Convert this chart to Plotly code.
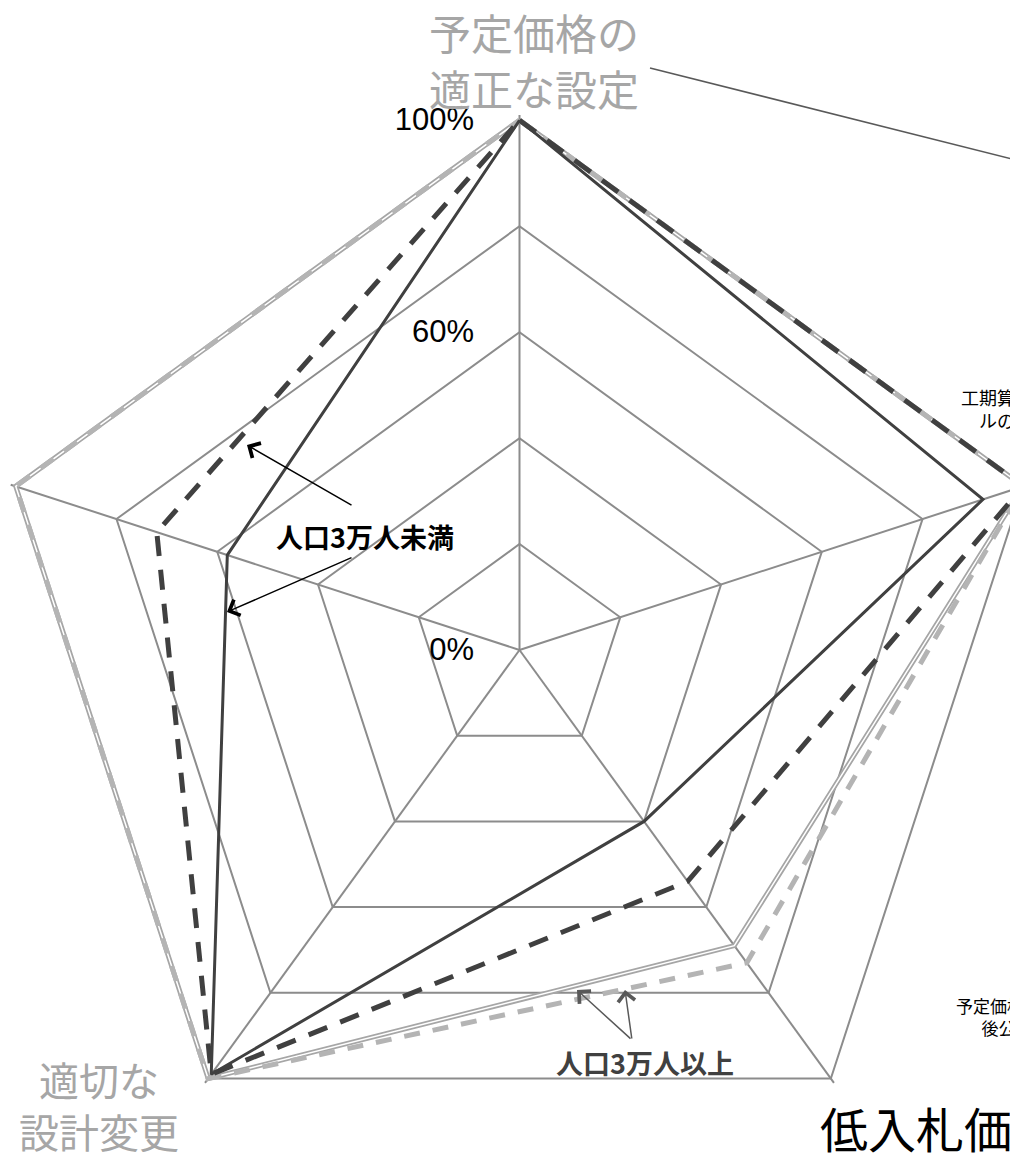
import plotly.graph_objects as go

# ---------------- data ----------------
categories = ["予定価格の適正な設定", "歩切りの根絶", "低入札価格調査基準の設定", "適切な設計変更", "施工時期の平準化"]
# percentages on each axis (clockwise from top)
over30k_double = [100, 100, 69, 100, 100]   # 人口3万人以上 (double line)
over30k_dashed = [100, 100, 73, 100, 100]   # 人口3万人以上 (dashed)
under30k_dashed = [100, 100, 54, 99, 72]    # 人口3万人未満 (dashed)
under30k_solid = [100, 92, 40, 99, 58]      # 人口3万人未満 (solid)
ring_vals = [0, 20, 40, 60, 80, 100]
ring_text = ["0%", "", "", "60%", "", "100%"]

# ---------------- layout geometry ----------------
# The reference is a crop of a wider chart: the figure is drawn larger than the
# window and shifted left by OFF pixels so the window shows the same crop.
W, H, OFF = 1080, 1190, 16
CX, CY, RPX = 519.5, 650, 535   # page centre, pixel radius of the radial range end

def px(x):
    return (x + OFF) / W

def py(y):
    return 1 - y / H

DARK = "#404040"
LIGHT = "#a6a6a6"
LIGHT_DASH = "#b4b4b4"
GRID = "#8c8c8c"
CJK = "Noto Sans CJK JP"
LATIN = "Liberation Sans, Arial, sans-serif"

theta = categories + [categories[0]]

def closed(v):
    return list(v) + [v[0]]

fig = go.Figure()
fig.add_trace(go.Scatterpolar(r=closed(over30k_double), theta=theta, mode="lines",
                              line=dict(color=LIGHT, width=5), name="人口3万人以上"))
fig.add_trace(go.Scatterpolar(r=closed(over30k_double), theta=theta, mode="lines",
                              line=dict(color="white", width=1.5), showlegend=False))
fig.add_trace(go.Scatterpolar(r=closed(over30k_dashed), theta=theta, mode="lines",
                              line=dict(color=LIGHT_DASH, width=5, dash="16px,13px"), name="人口3万人以上 (破線)"))
fig.add_trace(go.Scatterpolar(r=closed(under30k_dashed), theta=theta, mode="lines",
                              line=dict(color=DARK, width=5, dash="20px,14px"), name="人口3万人未満 (破線)"))
fig.add_trace(go.Scatterpolar(r=closed(under30k_solid), theta=theta, mode="lines",
                              line=dict(color=DARK, width=3), name="人口3万人未満"))

fig.update_layout(
    width=W, height=H,
    margin=dict(l=0, r=0, t=0, b=0),
    paper_bgcolor="white",
    showlegend=False,
    polar=dict(
        domain=dict(x=[max(0.0, px(CX - RPX)), px(CX + RPX)], y=[py(CY + RPX), py(CY - RPX)]),
        gridshape="linear",
        bgcolor="white",
        angularaxis=dict(type="category", categoryarray=categories, rotation=90, direction="clockwise",
                         showticklabels=False, ticks="", showgrid=True, gridcolor=GRID, gridwidth=1.5,
                         showline=False, layer="below traces"),
        radialaxis=dict(range=[0, 101], tickvals=ring_vals, ticktext=ring_text, angle=90, tickangle=90,
                        side="counterclockwise", showline=False, showgrid=True, gridcolor=GRID, gridwidth=1.5,
                        ticks="outside", ticklen=34, tickcolor="rgba(0,0,0,0)", layer="below traces",
                        tickfont=dict(size=31, family=LATIN, color="black")),
    ),
)

ann = []
# axis labels
for text, yy in [("予定価格の", 31), ("適正な設定", 88)]:
    ann.append(dict(text=text, x=px(534), y=py(yy), xref="paper", yref="paper",
                    showarrow=False, xanchor="center", yanchor="middle",
                    font=dict(family=CJK, size=42, color=LIGHT)))
ann.append(dict(text="適切な<br>設計変更", x=px(99), y=py(1105), xref="paper", yref="paper",
                showarrow=False, xanchor="center", yanchor="middle",
                font=dict(family=CJK, size=40, color=LIGHT)))
ann.append(dict(text="低入札価格調査基準", x=px(818), y=py(1127), xref="paper", yref="paper",
                showarrow=False, xanchor="left", yanchor="middle",
                font=dict(family=CJK, size=48, color="black")))
ann.append(dict(text="工期算定ツー<br>ルの活用", x=px(959), y=py(408), xref="paper", yref="paper",
                showarrow=False, xanchor="left", yanchor="middle", align="center",
                font=dict(family=CJK, size=18, color="black")))
ann.append(dict(text="予定価格の事<br>後公表", x=px(954), y=py(1016), xref="paper", yref="paper",
                showarrow=False, xanchor="left", yanchor="middle", align="center",
                font=dict(family=CJK, size=17, color="black")))
# series labels
ann.append(dict(text="<b>人口3万人未満</b>", x=px(365), y=py(537), xref="paper", yref="paper",
                showarrow=False, xanchor="center", yanchor="middle",
                font=dict(family=CJK, size=27, color="black")))
ann.append(dict(text="<b>人口3万人以上</b>", x=px(645), y=py(1062), xref="paper", yref="paper",
                showarrow=False, xanchor="center", yanchor="middle",
                font=dict(family=CJK, size=27, color=DARK)))
# arrows
for (tx, ty, sx, sy, col) in [(247, 445, 353, 506, "black"), (227, 612, 353, 557, "black"),
                              (577, 990, 632, 1040, "#595959"), (625, 990, 632, 1040, "#595959")]:
    ann.append(dict(text="", x=px(tx), y=py(ty), xref="paper", yref="paper",
                    ax=sx - tx, ay=sy - ty, axref="pixel", ayref="pixel",
                    showarrow=True, arrowhead=4, arrowsize=2.2, arrowwidth=1.5, arrowcolor=col))
fig.update_layout(annotations=ann)

# leader line from the top label
fig.add_shape(type="line", xref="paper", yref="paper", x0=px(650), y0=py(68), x1=px(1064), y1=py(172),
              line=dict(color="#595959", width=1.5))

fig.write_html(
    "out.html",
    config={"displayModeBar": False},
    post_script="document.body.style.margin='0 0 0 -%dpx'; document.body.style.overflow='hidden';" % OFF,
)
